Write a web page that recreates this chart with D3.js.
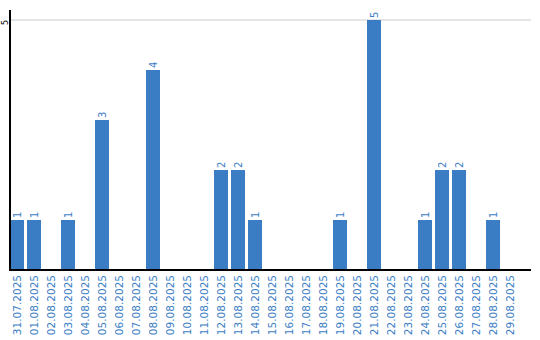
<!DOCTYPE html>
<html>
<head>
<meta charset="utf-8">
<script src="https://cdn.jsdelivr.net/npm/d3@7"></script>
<style>
  body { margin: 0; background: #fff; }
  text { font-family: "DejaVu Sans", Verdana, sans-serif; }
</style>
</head>
<body>
<script>
// dates on the x axis and the counts per day
var days = ["31.07.2025", "01.08.2025", "02.08.2025", "03.08.2025", "04.08.2025",
            "05.08.2025", "06.08.2025", "07.08.2025", "08.08.2025", "09.08.2025",
            "10.08.2025", "11.08.2025", "12.08.2025", "13.08.2025", "14.08.2025",
            "15.08.2025", "16.08.2025", "17.08.2025", "18.08.2025", "19.08.2025",
            "20.08.2025", "21.08.2025", "22.08.2025", "23.08.2025", "24.08.2025",
            "25.08.2025", "26.08.2025", "27.08.2025", "28.08.2025", "29.08.2025"]
var counts = [1, 1, 0, 1, 0, 3, 0, 0, 4, 0, 0, 0, 2, 2, 1, 0, 0, 0, 0, 1, 0, 5, 0, 0, 1, 2, 2, 0, 1, 0]
var yTicks = [5]

var screen = {width: 540, height: 340}
var margins = {top: 10, left: 10, right: 9, bottom: 70}
var blue = "#3b7dc4"

var svg = d3.select("body")
  .append("svg")
  .attr("width", screen.width)
  .attr("height", screen.height)

var baseY = screen.height - margins.bottom
var rightX = screen.width - margins.right

var xScale = d3.scaleBand()
  .domain(days)
  .range([margins.left, 530])
  .paddingInner(3 / 17)
  .paddingOuter(0.382)
  .align(0)

var yScale = d3.scaleLinear()
  .domain([0, 5])
  .range([baseY, 20])

// grid line for the 5 tick
svg.append("g")
  .selectAll("line")
  .data(yTicks)
  .enter()
  .append("line")
  .attr("x1", margins.left)
  .attr("x2", rightX)
  .attr("y1", function(d) { return yScale(d) })
  .attr("y2", function(d) { return yScale(d) })
  .attr("stroke", "#cccccc")
  .attr("stroke-width", 1)

// y tick labels, turned on their side
svg.append("g")
  .selectAll("text")
  .data(yTicks)
  .enter()
  .append("text")
  .attr("transform", function(d) { return "translate(7.5," + (yScale(d) + 2.5) + ") rotate(-90)" })
  .attr("text-anchor", "middle")
  .attr("font-size", "8px")
  .attr("fill", "#000")
  .text(function(d) { return d })

var data = days.map(function(d, i) { return {day: d, n: counts[i]} })

svg.append("g")
  .selectAll("rect")
  .data(data.filter(function(d) { return d.n > 0 }))
  .enter()
  .append("rect")
  .attr("x", function(d) { return xScale(d.day) })
  .attr("y", function(d) { return yScale(d.n) })
  .attr("width", xScale.bandwidth())
  .attr("height", function(d) { return baseY - yScale(d.n) })
  .attr("fill", blue)

// count labels on top of bars
svg.append("g")
  .selectAll("text")
  .data(data.filter(function(d) { return d.n > 0 }))
  .enter()
  .append("text")
  .attr("transform", function(d) {
    return "translate(" + (xScale(d.day) + xScale.bandwidth() / 2 + 3.5) + "," + (yScale(d.n) - 2) + ") rotate(-90)"
  })
  .attr("text-anchor", "start")
  .attr("font-size", "10px")
  .attr("fill", blue)
  .text(function(d) { return d.n })

// x axis labels
var xAxis = d3.axisBottom(xScale).tickSize(0).tickPadding(0)
var gx = svg.append("g")
  .attr("transform", "translate(0," + baseY + ")")
  .call(xAxis)
gx.select(".domain").remove()
gx.selectAll("text")
  .attr("transform", "translate(3.5,5) rotate(-90)")
  .attr("dy", 0)
  .attr("y", 0)
  .attr("x", 0)
  .attr("text-anchor", "end")
  .attr("font-family", "DejaVu Sans, sans-serif")
  .attr("font-size", "10.5px")
  .attr("fill", blue)

// axis lines
svg.append("line")
  .attr("x1", margins.left).attr("x2", margins.left)
  .attr("y1", margins.top).attr("y2", baseY + 1)
  .attr("stroke", "#000").attr("stroke-width", 2)

svg.append("line")
  .attr("x1", margins.left).attr("x2", rightX)
  .attr("y1", baseY).attr("y2", baseY)
  .attr("stroke", "#000").attr("stroke-width", 2)
</script>
</body>
</html>
